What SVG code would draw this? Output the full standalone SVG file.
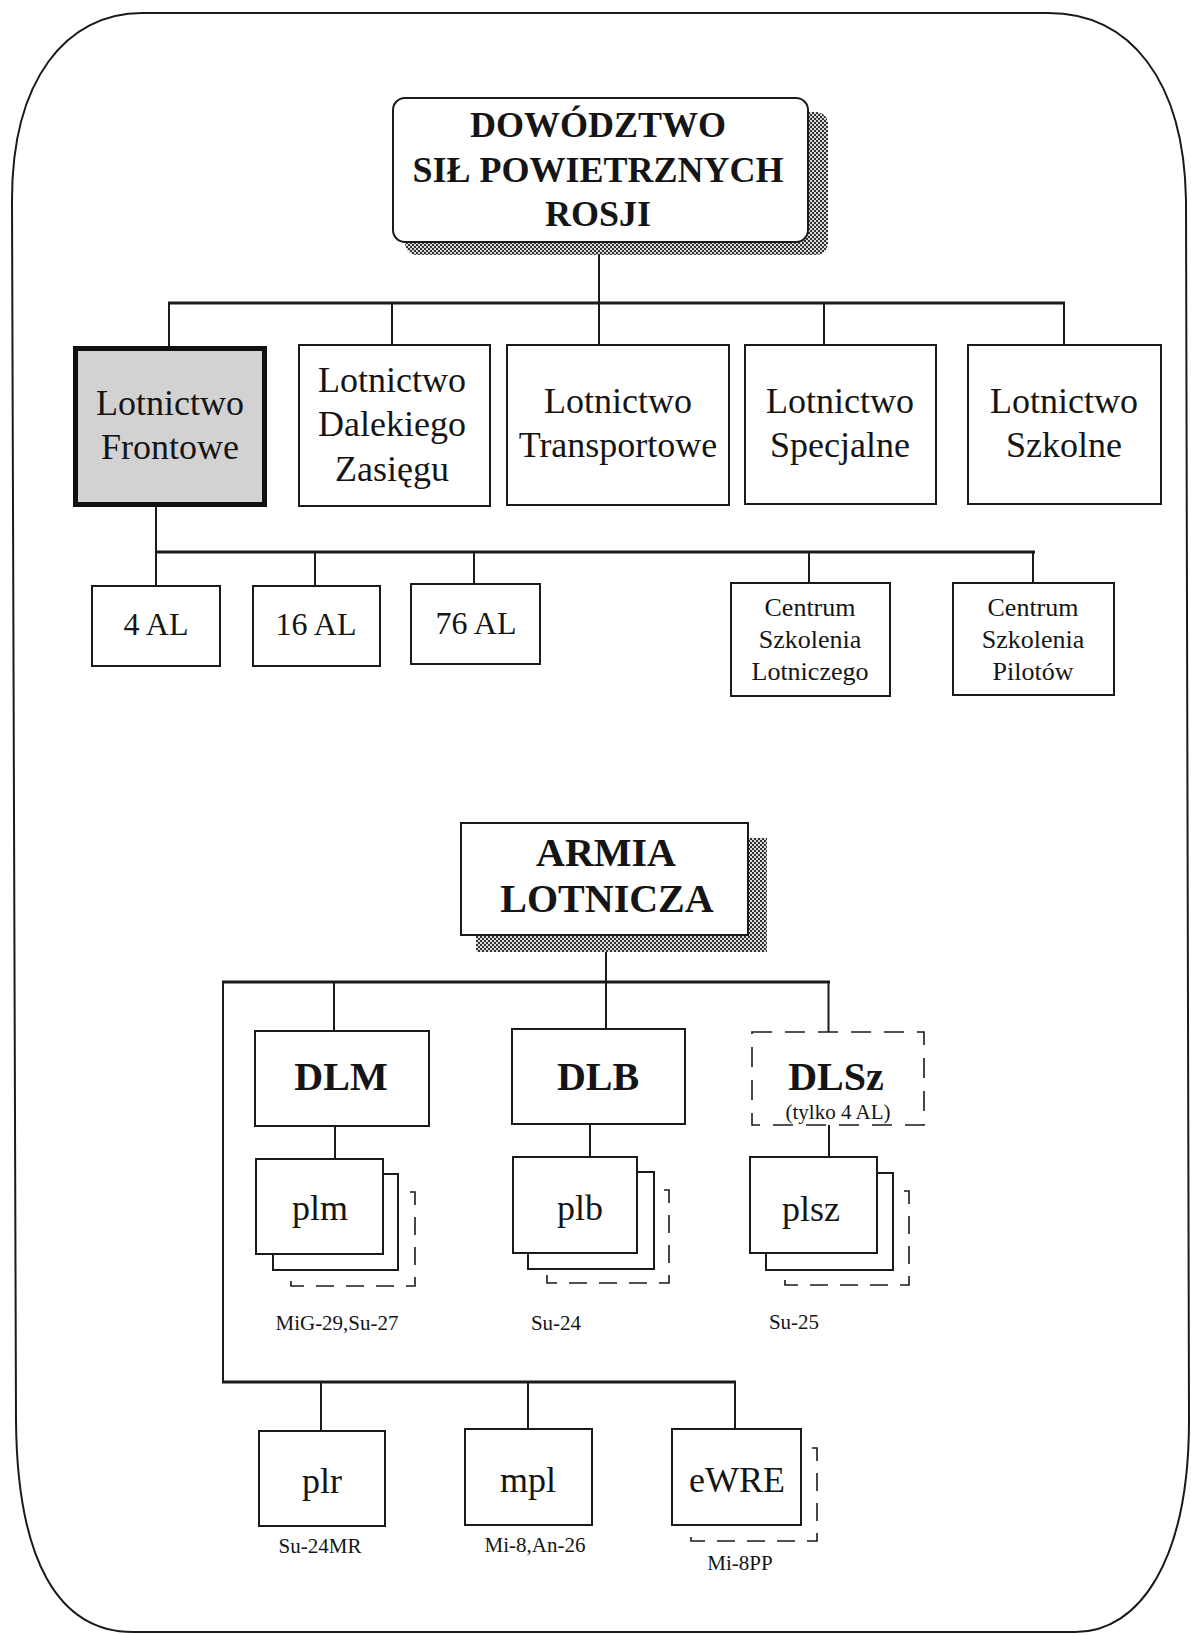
<svg xmlns="http://www.w3.org/2000/svg" width="1191" height="1635" viewBox="0 0 1191 1635">
<style>
text{font-family:"Liberation Serif","Times New Roman",serif;fill:#151515;text-anchor:middle}
.b{font-weight:bold}
.box{fill:#fff;stroke:#1a1a1a;stroke-width:2}
.dash{fill:none;stroke:#1a1a1a;stroke-width:1.6;stroke-dasharray:18 12}
.ln{stroke:#1a1a1a;stroke-width:2;fill:none}
.bus{stroke:#1a1a1a;stroke-width:3;fill:none}
.t36{font-size:36px}
.t32{font-size:32px}
.t26{font-size:26px}
.t21{font-size:21px}
.t40{font-size:40px}
</style>
<defs>
<pattern id="chk" width="4" height="4" patternUnits="userSpaceOnUse">
<rect width="4" height="4" fill="#d8d8d8"/>
<rect width="2" height="2" fill="#333"/>
<rect x="2" y="2" width="2" height="2" fill="#333"/>
</pattern>
</defs>
<rect width="1191" height="1635" fill="#fff"/>
<path id="frame" d="M142,13 L1048,13 C1130,13 1184,80 1186,200 L1189,1420 C1189,1560 1140,1632 1075,1632 L133,1632 C58,1632 17,1560 16,1420 L12,200 C12,80 66,13 142,13 Z" fill="none" stroke="#1a1a1a" stroke-width="2"/>

<g id="connectors">
<path class="ln" d="M599,242 V345 M169,303 V346 M392,303 V345 M824,303 V345 M1064,303 V345"/>
<path class="bus" d="M168,303 H1065"/>
<path class="ln" d="M156,507 V552 M156,552 V586 M315,552 V586 M474,552 V584 M809,552 V583 M1033,552 V583"/>
<path class="bus" d="M155,552 H1035"/>
<path class="ln" d="M606,935 V1029 M334,982 V1031 M828.5,982 V1032 M223,982 V1382 M321,1382 V1431 M528,1382 V1429 M735,1382 V1429 M335,1126 V1159 M590,1124 V1157 M829,1125 V1157"/>
<path class="bus" d="M222,982 H830 M222,1382 H736"/>
</g>

<g id="dowodztwo">
<rect x="405" y="112" width="423" height="143" rx="12" fill="url(#chk)"/>
<rect class="box" x="393" y="98" width="415" height="144" rx="12"/>
<text class="b t36" x="598" y="137">DOWÓDZTWO</text>
<text class="b t36" x="598" y="182">SIŁ POWIETRZNYCH</text>
<text class="b t36" x="598" y="226">ROSJI</text>
</g>

<g id="lotnictwo-frontowe">
<rect x="75.5" y="348.5" width="189" height="156" fill="#d2d2d2" stroke="#111" stroke-width="5"/>
<text class="t36" x="170" y="415">Lotnictwo</text>
<text class="t36" x="170" y="459">Frontowe</text>
</g>
<g id="lotnictwo-dalekiego">
<rect class="box" x="299" y="345" width="191" height="161"/>
<text class="t36" x="392" y="392">Lotnictwo</text>
<text class="t36" x="392" y="436">Dalekiego</text>
<text class="t36" x="392" y="481">Zasięgu</text>
</g>
<g id="lotnictwo-transportowe">
<rect class="box" x="507" y="345" width="222" height="160"/>
<text class="t36" x="618" y="413">Lotnictwo</text>
<text class="t36" x="618" y="457">Transportowe</text>
</g>
<g id="lotnictwo-specjalne">
<rect class="box" x="745" y="345" width="191" height="159"/>
<text class="t36" x="840" y="413">Lotnictwo</text>
<text class="t36" x="840" y="457">Specjalne</text>
</g>
<g id="lotnictwo-szkolne">
<rect class="box" x="968" y="345" width="193" height="159"/>
<text class="t36" x="1064" y="413">Lotnictwo</text>
<text class="t36" x="1064" y="457">Szkolne</text>
</g>

<g id="al4">
<rect class="box" x="92" y="586" width="128" height="80"/>
<text class="t32" x="156" y="635">4 AL</text>
</g>
<g id="al16">
<rect class="box" x="253" y="586" width="127" height="80"/>
<text class="t32" x="316" y="635">16 AL</text>
</g>
<g id="al76">
<rect class="box" x="411" y="584" width="129" height="80"/>
<text class="t32" x="476" y="634">76 AL</text>
</g>
<g id="centrum-lotniczego">
<rect class="box" x="731" y="583" width="159" height="113"/>
<text class="t26" x="810" y="616">Centrum</text>
<text class="t26" x="810" y="648">Szkolenia</text>
<text class="t26" x="810" y="680">Lotniczego</text>
</g>
<g id="centrum-pilotow">
<rect class="box" x="953" y="583" width="161" height="112"/>
<text class="t26" x="1033" y="616">Centrum</text>
<text class="t26" x="1033" y="648">Szkolenia</text>
<text class="t26" x="1033" y="680">Pilotów</text>
</g>

<g id="armia">
<rect x="476" y="838" width="291" height="114" fill="url(#chk)"/>
<rect class="box" x="461" y="823" width="287" height="112"/>
<text class="b t40" x="606" y="866">ARMIA</text>
<text class="b t40" x="607" y="912">LOTNICZA</text>
</g>

<g id="dlm">
<rect class="box" x="255" y="1031" width="174" height="95"/>
<text class="b t40" x="341" y="1090">DLM</text>
</g>
<g id="dlb">
<rect class="box" x="512" y="1029" width="173" height="95"/>
<text class="b t40" x="598" y="1090">DLB</text>
</g>
<g id="dlsz">
<rect x="752" y="1032" width="172" height="93" fill="#fff" stroke="#1a1a1a" stroke-width="1.6" stroke-dasharray="20 13"/>
<text class="b t40" x="836" y="1090">DLSz</text>
<text class="t21" x="838" y="1119">(tylko 4 AL)</text>
</g>

<g id="plm">
<path class="dash" d="M410,1192 H415 V1286 H291 V1272"/>
<rect class="box" x="273" y="1174" width="125" height="96"/>
<rect class="box" x="256" y="1159" width="127" height="95"/>
<text class="t36" x="320" y="1220">plm</text>
<text class="t21" x="337" y="1330">MiG-29,Su-27</text>
</g>
<g id="plb">
<path class="dash" d="M664,1190 H669 V1283 H547 V1270"/>
<rect class="box" x="528" y="1172" width="126" height="97"/>
<rect class="box" x="513" y="1157" width="124" height="96"/>
<text class="t36" x="580" y="1220">plb</text>
<text class="t21" x="556" y="1330">Su-24</text>
</g>
<g id="plsz">
<path class="dash" d="M904,1191 H909 V1285 H785 V1271"/>
<rect class="box" x="766" y="1173" width="127" height="97"/>
<rect class="box" x="750" y="1157" width="127" height="96"/>
<text class="t36" x="811" y="1221">plsz</text>
<text class="t21" x="794" y="1329">Su-25</text>
</g>

<g id="plr">
<rect class="box" x="259" y="1431" width="126" height="95"/>
<text class="t36" x="322" y="1493">plr</text>
<text class="t21" x="320" y="1553">Su-24MR</text>
</g>
<g id="mpl">
<rect class="box" x="465" y="1429" width="127" height="96"/>
<text class="t36" x="528" y="1492">mpl</text>
<text class="t21" x="535" y="1552">Mi-8,An-26</text>
</g>
<g id="ewre">
<path class="dash" d="M812,1448 H817 V1541 H691 V1527"/>
<rect class="box" x="672" y="1429" width="129" height="96"/>
<text class="t36" x="737" y="1492">eWRE</text>
<text class="t21" x="740" y="1570">Mi-8PP</text>
</g>
</svg>
